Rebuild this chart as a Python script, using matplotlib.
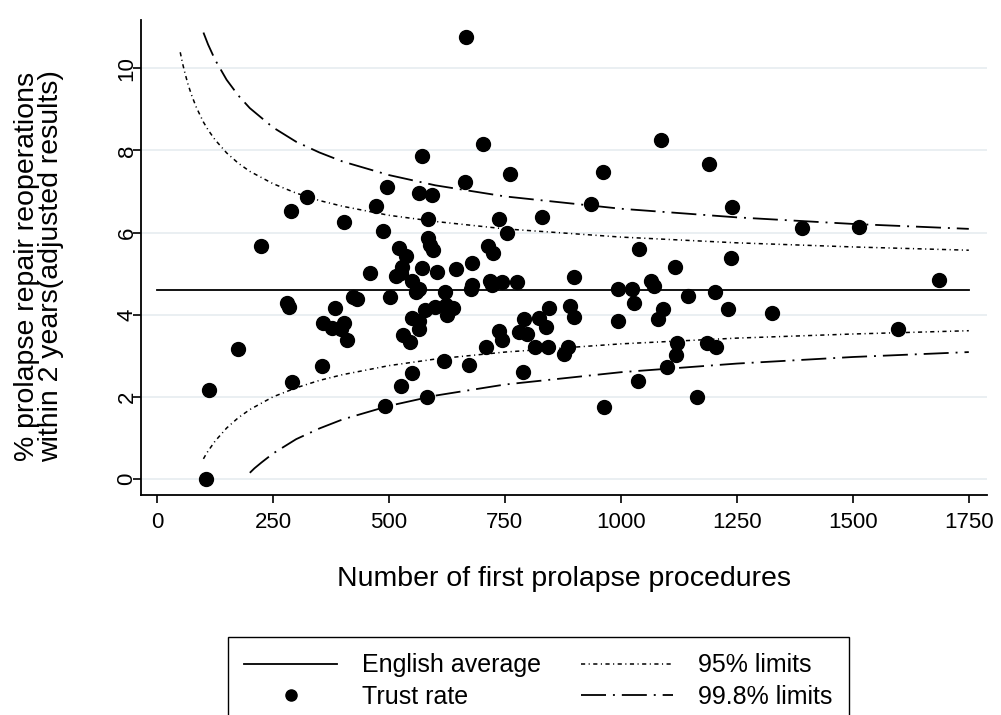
import matplotlib.pyplot as plt
from matplotlib.lines import Line2D

plt.rcParams['font.family'] = ['Liberation Sans', 'DejaVu Sans']
plt.rcParams['lines.scale_dashes'] = False

# national rate (%)
english_avg = 4.59

# one point per trust: number of procedures and adjusted reoperation rate (%)
n_procedures = [106, 112, 175, 224, 280, 284, 289, 291, 323, 356,
                358, 377, 384, 397, 403, 409, 403, 422, 431, 459,
                472, 487, 491, 496, 502, 515, 522, 526, 526, 528,
                530, 537, 545, 550, 550, 550, 558, 565, 565, 565,
                565, 571, 571, 578, 582, 584, 584, 588, 593, 595,
                599, 603, 618, 621, 623, 625, 638, 644, 664, 666,
                672, 677, 679, 679, 703, 709, 713, 718, 722, 724,
                737, 737, 744, 744, 754, 761, 776, 780, 789, 791,
                797, 815, 823, 830, 838, 843, 845, 877, 886, 890,
                899, 899, 935, 961, 963, 993, 993, 1024, 1028, 1039,
                1037, 1065, 1071, 1080, 1086, 1091, 1099, 1116, 1119, 1121,
                1144, 1164, 1185, 1190, 1203, 1205, 1231, 1237, 1239, 1325,
                1390, 1513, 1597, 1685]
reop_rate = [0.00, 2.17, 3.16, 5.67, 4.28, 4.18, 6.52, 2.36, 6.86, 2.75,
             3.80, 3.67, 4.16, 3.65, 3.80, 3.38, 6.25, 4.43, 4.38, 5.01,
             6.64, 6.03, 1.78, 7.10, 4.43, 4.94, 5.62, 5.01, 2.26, 5.16,
             3.50, 5.43, 3.33, 4.82, 3.92, 2.58, 4.55, 4.62, 6.96, 3.84,
             3.65, 7.86, 5.13, 4.11, 2.00, 6.33, 5.86, 5.69, 6.91, 5.57,
             4.18, 5.04, 2.87, 4.55, 4.23, 3.99, 4.16, 5.11, 7.23, 10.75,
             2.77, 4.62, 5.26, 4.72, 8.15, 3.21, 5.67, 4.82, 4.72, 5.50,
             6.33, 3.60, 4.79, 3.38, 5.99, 7.42, 4.79, 3.58, 2.60, 3.89,
             3.53, 3.21, 3.92, 6.37, 3.70, 3.21, 4.16, 3.04, 3.21, 4.21,
             4.91, 3.94, 6.69, 7.47, 1.75, 4.62, 3.84, 4.62, 4.28, 5.60,
             2.38, 4.82, 4.70, 3.89, 8.25, 4.14, 2.72, 5.16, 3.02, 3.31,
             4.45, 2.00, 3.31, 7.66, 4.55, 3.21, 4.14, 5.38, 6.62, 4.04,
             6.11, 6.13, 3.65, 4.84]

# control limits
n_upper95 = [50, 55, 60, 67, 75, 85, 100, 110, 125, 150, 175, 200, 250, 300,
             350, 400, 500, 600, 750, 1000, 1250, 1500, 1750]
upper95 = [10.39, 10.12, 9.89, 9.60, 9.33, 9.04, 8.69, 8.50, 8.26, 7.94, 7.69,
           7.49, 7.19, 6.96, 6.78, 6.64, 6.42, 6.27, 6.09, 5.89, 5.75, 5.65, 5.57]
n_lower95 = [100, 105, 110, 125, 150, 175, 200, 250, 300, 350, 400, 500, 600,
             750, 1000, 1250, 1500, 1750]
lower95 = [0.49, 0.59, 0.68, 0.92, 1.24, 1.49, 1.69, 2.00, 2.22, 2.40, 2.54,
           2.76, 2.92, 3.09, 3.29, 3.43, 3.53, 3.61]
n_upper998 = [100, 110, 125, 150, 175, 200, 250, 300, 350, 400, 500, 600, 750,
              1000, 1250, 1500, 1750]
upper998 = [10.87, 10.58, 10.21, 9.72, 9.34, 9.03, 8.56, 8.21, 7.95, 7.73,
            7.40, 7.15, 6.88, 6.58, 6.37, 6.21, 6.09]
n_lower998 = [200, 210, 225, 250, 300, 350, 400, 500, 600, 750, 1000, 1250,
              1500, 1750]
lower998 = [0.15, 0.26, 0.40, 0.62, 0.97, 1.23, 1.45, 1.78, 2.03, 2.30, 2.60,
            2.81, 2.97, 3.09]

x_ticks = [0, 250, 500, 750, 1000, 1250, 1500, 1750]
y_ticks = [0, 2, 4, 6, 8, 10]

dash95 = (0, (3.0, 2.5, 0.8, 2.5))
dash998 = (0, (18, 5, 1.4, 5))

fig = plt.figure(figsize=(10.01, 7.15), dpi=100)
ax = fig.add_axes([0.1409, 0.3077, 0.845, 0.664])

ax.plot([0, 1750], [english_avg, english_avg], color='black', lw=1.3, zorder=3)
ax.plot(n_procedures, reop_rate, 'o', color='black', ms=10, zorder=4)
ax.plot(n_upper95, upper95, color='black', lw=1.1, linestyle=dash95, zorder=3)
ax.plot(n_lower95, lower95, color='black', lw=1.1, linestyle=dash95, zorder=3)
ax.plot(n_upper998, upper998, color='black', lw=1.3, linestyle=dash998, zorder=3)
ax.plot(n_lower998, lower998, color='black', lw=1.3, linestyle=dash998, zorder=3)

ax.set_xlim(-34.5, 1789)
ax.set_ylim(-0.39, 11.17)
ax.set_xticks(x_ticks)
ax.set_yticks(y_ticks)
ax.set_yticklabels([str(v) for v in y_ticks], rotation=90, va='center')
ax.tick_params(labelsize=16, length=5.5, width=1.2, direction='out')
ax.tick_params(axis='y', pad=-3)
ax.tick_params(axis='x', pad=7)

ax.grid(axis='y', color='#e8eef1', lw=1.3)
ax.set_axisbelow(True)
for side in ['top', 'right']:
    ax.spines[side].set_visible(False)
for side in ['left', 'bottom']:
    ax.spines[side].set_linewidth(1.3)

ax.set_xlabel('Number of first prolapse procedures', fontsize=20.5)
ax.xaxis.set_label_coords(0.5, -0.150)
ax.set_ylabel('% prolapse repair reoperations\nwithin 2 years(adjusted results)',
              fontsize=20.5, linespacing=0.92)
ax.yaxis.set_label_coords(-0.091, 0.482)

handles = [
    Line2D([], [], color='black', lw=1.3),
    Line2D([], [], color='black', marker='o', ms=8, lw=0),
    Line2D([], [], color='black', lw=1.1, linestyle=dash95),
    Line2D([], [], color='black', lw=1.3, linestyle=dash998),
]
labels = ['English average', 'Trust rate', '95% limits', '99.8% limits']
leg = fig.legend(handles, labels, loc='upper center',
                 bbox_to_anchor=(0.538, 1 - 637 / 715), ncol=2, fontsize=18,
                 frameon=True, fancybox=False, edgecolor='black', framealpha=1,
                 handlelength=3.7, handletextpad=1.0, columnspacing=1.6,
                 borderpad=0.65, labelspacing=0.3, borderaxespad=0)
leg.get_frame().set_linewidth(1.0)

plt.savefig('out.png', dpi=100)
